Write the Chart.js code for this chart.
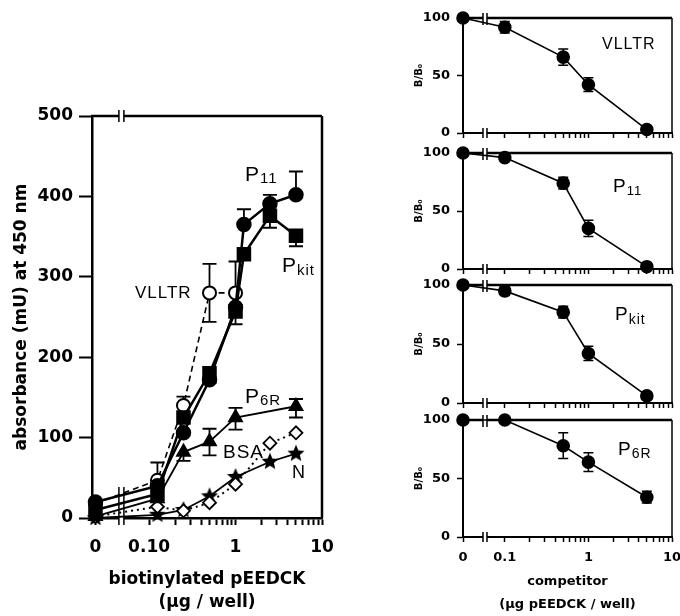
<!DOCTYPE html>
<html>
<head>
<meta charset="utf-8">
<script src="https://cdn.jsdelivr.net/npm/chart.js@4.4.1/dist/chart.umd.min.js"></script>
<style>
  body { margin: 0; background: #fff; }
  #wrap { position: relative; width: 680px; height: 616px; }
  #wrap canvas { position: absolute; top: 0; }
</style>
</head>
<body>
<div id="wrap">
  <canvas id="main" width="340" height="616" style="left:0"></canvas>
  <canvas id="c1" width="340" height="616" style="left:340px"></canvas>
  <canvas id="c2" width="340" height="616" style="left:340px"></canvas>
  <canvas id="c3" width="340" height="616" style="left:340px"></canvas>
  <canvas id="c4" width="340" height="616" style="left:340px"></canvas>
</div>
<script>
// ---- left panel: absorbance (mU) vs biotinylated pEEDCK (ug / well)
const doseP = [0, 0.125, 0.25, 0.5, 1, 1.25, 2.5, 5];   // P11 and Pkit
const p11 = [20, 40, 106, 172, 262, 365, 391, 402];
const p11Up = [0, 0, 0, 0, 0, 19, 11, 29];
const pkit = [10, 30, 125, 180, 257, 328, 376, 351];
const pkitDown = [0, 0, 0, 12, 16, 0, 15, 13];

const doseV = [0, 0.125, 0.25, 0.5, 1];
const vlltr = [18, 47, 140, 280, 280];
const vlltrUp = [0, 22, 11, 36, 39];
const vlltrDown = [0, 0, 0, 36, 0];

const doseR = [0, 0.125, 0.25, 0.5, 1, 5];
const p6r = [2, 24, 82, 95, 125, 139];
const p6rUp = [0, 0, 0, 16, 12, 9];
const p6rDown = [0, 0, 11, 17, 15, 14];

const doseB = [0, 0.125, 0.25, 0.5, 1, 2.5, 5];         // BSA and N
const bsa = [2, 14, 9, 19, 42, 93, 106];
const nPep = [0, 4, 10, 27, 51, 70, 80];

const yTicksMain = [0, 100, 200, 300, 400, 500];
const xLabelsMain = ['0', '0.10', '1', '10'];

// ---- right panels: B/Bo vs competitor (ug pEEDCK / well)
const doseC = [0, 0.1, 0.5, 1, 5];
const compVlltr = [100, 92, 66, 42, 3];
const compVlltrErr = [0, 5, 7, 6, 2];
const compP11 = [100, 96, 74, 35, 2];
const compP11Err = [0, 3, 5, 7, 0];
const compPkit = [100, 95, 77, 42, 6];
const compPkitErr = [0, 4, 5, 6, 3];
const compP6r = [100, 100, 78, 64, 34];
const compP6rErr = [0, 0, 11, 8, 5];

const yTicksComp = [0, 50, 100];
const xLabelsComp = ['0', '0.1', '1', '10'];

// x axis is in log10 units, the "0" dose sits left of the axis break
const ZERO_MAIN = -1.62;
const ZERO_COMP = -1.5;

function pts(doses, vals, zero) {
  return doses.map(function (d, i) {
    return { x: d === 0 ? zero : Math.log10(d), y: vals[i] };
  });
}

function logTicks(zero) {
  var t = [zero, -1, 0, 1];
  for (var k = 2; k <= 9; k++) {
    t.push(Math.log10(k / 10));
    t.push(Math.log10(k));
  }
  t.sort(function (a, b) { return a - b; });
  return t.map(function (v) { return { value: v }; });
}

function logLabel(zero, labels) {
  var majors = [zero, -1, 0, 1];
  return function (v) {
    for (var i = 0; i < majors.length; i++) {
      if (Math.abs(v - majors[i]) < 1e-6) return labels[i];
    }
    return '';
  };
}

function starImg(r) {
  var c = document.createElement('canvas');
  c.width = c.height = r * 2 + 2;
  var g = c.getContext('2d');
  g.beginPath();
  for (var i = 0; i < 10; i++) {
    var a = -Math.PI / 2 + i * Math.PI / 5;
    var rr = i % 2 ? r * 0.45 : r;
    g.lineTo(c.width / 2 + rr * Math.cos(a), c.height / 2 + rr * Math.sin(a));
  }
  g.closePath();
  g.fillStyle = '#000';
  g.fill();
  return c;
}

// error bars, drawn under the markers
function errorBars(cap, width) {
  return {
    id: 'errorBars',
    beforeDatasetsDraw: function (chart) {
      var ctx = chart.ctx, xs = chart.scales.x, ys = chart.scales.y;
      ctx.save();
      ctx.strokeStyle = '#000';
      ctx.lineWidth = width;
      chart.data.datasets.forEach(function (ds) {
        ds.data.forEach(function (p, i) {
          var up = ds.errUp ? ds.errUp[i] : 0;
          var dn = ds.errDown ? ds.errDown[i] : 0;
          var x = xs.getPixelForValue(p.x);
          var y0 = ys.getPixelForValue(p.y);
          [up, -dn].forEach(function (e) {
            if (!e) return;
            var y1 = ys.getPixelForValue(p.y + e);
            ctx.beginPath();
            ctx.moveTo(x, y0);
            ctx.lineTo(x, y1);
            ctx.moveTo(x - cap, y1);
            ctx.lineTo(x + cap, y1);
            ctx.stroke();
          });
        });
      });
      ctx.restore();
    }
  };
}

// top/right frame and the axis break marks
function frame(o) {
  return {
    id: 'frame',
    beforeDatasetsDraw: function (chart) {
      var ctx = chart.ctx, a = chart.chartArea;
      var xb = chart.scales.x.getPixelForValue(o.breakAt);
      ctx.save();
      ctx.strokeStyle = '#000';
      ctx.lineWidth = o.topWidth;
      ctx.beginPath();
      ctx.moveTo(a.left - 1, a.top);
      ctx.lineTo(a.right, a.top);
      ctx.stroke();
      ctx.lineWidth = o.rightWidth;
      ctx.beginPath();
      ctx.moveTo(a.right, a.top);
      ctx.lineTo(a.right, a.bottom);
      ctx.stroke();
      ctx.fillStyle = '#fff';
      ctx.fillRect(xb - o.gap, a.top - 2, o.gap * 2, 4);
      ctx.fillRect(xb - o.gap, a.bottom - 2, o.gap * 2, 4);
      ctx.lineWidth = 1.5;
      [-o.gap, o.gap].forEach(function (d) {
        ctx.beginPath();
        ctx.moveTo(xb + d, a.top - o.topMark[0]);
        ctx.lineTo(xb + d, a.top + o.topMark[1]);
        ctx.moveTo(xb + d, a.bottom - o.botMark[0]);
        ctx.lineTo(xb + d, a.bottom + o.botMark[1]);
        ctx.stroke();
      });
      ctx.restore();
    }
  };
}

// series names written next to the curves
function notes(items) {
  return {
    id: 'notes',
    afterDraw: function (chart) {
      var ctx = chart.ctx;
      ctx.save();
      ctx.fillStyle = '#000';
      ctx.textBaseline = 'alphabetic';
      ctx.textAlign = 'left';
      if ('letterSpacing' in ctx) ctx.letterSpacing = '1px';
      items.forEach(function (n) {
        ctx.font = n.size + 'px "Liberation Sans", Arial, sans-serif';
        ctx.fillText(n.text, n.x, n.y);
        if (n.sub) {
          var w = ctx.measureText(n.text).width;
          ctx.font = n.subSize + 'px "Liberation Sans", Arial, sans-serif';
          ctx.fillText(n.sub, n.x + w, n.y + n.drop);
        }
      });
      ctx.restore();
    }
  };
}

Chart.defaults.font.family = '"DejaVu Sans", sans-serif';
Chart.defaults.color = '#000';

var BLK = '#000';
var tickFont = { family: '"DejaVu Sans"', weight: 'bold', size: 17 };

// ---------------- left chart
new Chart(document.getElementById('main'), {
  type: 'line',
  data: {
    datasets: [
      { label: 'P11', data: pts(doseP, p11, ZERO_MAIN), errUp: p11Up,
        borderColor: BLK, borderWidth: 2.5, pointStyle: 'circle', pointRadius: 6.5,
        pointBackgroundColor: BLK, pointBorderColor: BLK },
      { label: 'Pkit', data: pts(doseP, pkit, ZERO_MAIN), errDown: pkitDown,
        borderColor: BLK, borderWidth: 2.5, pointStyle: 'rect', pointRadius: 8.5,
        pointBackgroundColor: BLK, pointBorderColor: BLK },
      { label: 'VLLTR', data: pts(doseV, vlltr, ZERO_MAIN), errUp: vlltrUp, errDown: vlltrDown,
        borderColor: BLK, borderWidth: 1.6, borderDash: [6, 4], pointStyle: 'circle', pointRadius: 6.5,
        pointBackgroundColor: '#fff', pointBorderColor: BLK, pointBorderWidth: 2 },
      { label: 'P6R', data: pts(doseR, p6r, ZERO_MAIN), errUp: p6rUp, errDown: p6rDown,
        borderColor: BLK, borderWidth: 1.8, pointStyle: 'triangle', pointRadius: 7.5,
        pointBackgroundColor: BLK, pointBorderColor: BLK },
      { label: 'BSA', data: pts(doseB, bsa, ZERO_MAIN),
        borderColor: BLK, borderWidth: 2, borderDash: [2, 4], pointStyle: 'rectRot', pointRadius: 6.5,
        pointBackgroundColor: '#fff', pointBorderColor: BLK, pointBorderWidth: 1.8 },
      { label: 'N', data: pts(doseB, nPep, ZERO_MAIN),
        borderColor: BLK, borderWidth: 1.8, pointStyle: starImg(9), pointRadius: 9 }
    ]
  },
  options: {
    responsive: false,
    animation: false,
    devicePixelRatio: 1,
    events: [],
    clip: false,
    layout: { padding: { left: 0, top: 116, right: 18, bottom: 0 } },
    elements: { line: { tension: 0 } },
    plugins: { legend: { display: false }, tooltip: { enabled: false } },
    scales: {
      x: {
        type: 'linear', min: -1.66, max: 1,
        afterBuildTicks: function (s) { s.ticks = logTicks(ZERO_MAIN); },
        afterFit: function (s) { s.height = 98; s.paddingLeft = 0; s.paddingRight = 0; },
        ticks: { autoSkip: false, maxRotation: 0, padding: 12, font: tickFont, color: BLK,
                 callback: logLabel(ZERO_MAIN, xLabelsMain) },
        grid: { drawOnChartArea: false, tickLength: 7, tickWidth: 2, tickColor: BLK },
        border: { display: true, width: 2.5, color: BLK },
        title: { display: true, text: ['biotinylated pEEDCK', '(\u00b5g / well)'],
                 font: { family: '"DejaVu Sans"', weight: 'bold', size: 17, lineHeight: 1.35 },
                 color: BLK, padding: { top: 0, bottom: 2 } }
      },
      y: {
        min: 0, max: 500,
        afterBuildTicks: function (s) { s.ticks = yTicksMain.map(function (v) { return { value: v }; }); },
        afterFit: function (s) { s.width = 92; s.paddingTop = 0; s.paddingBottom = 0; },
        ticks: { padding: 6, font: tickFont, color: BLK },
        grid: { drawOnChartArea: false, tickLength: 13, tickWidth: 2, tickColor: BLK },
        border: { display: true, width: 2.5, color: BLK },
        title: { display: true, text: 'absorbance (mU) at 450 nm',
                 font: { family: '"DejaVu Sans"', weight: 'bold', size: 17 },
                 color: BLK, padding: { top: 11, bottom: 0 } }
      }
    }
  },
  plugins: [
    frame({ breakAt: -1.32, gap: 2.5, topWidth: 2.5, rightWidth: 2.5, topMark: [6, 6], botMark: [31, 7] }),
    errorBars(7, 1.8),
    notes([
      { text: 'P', sub: '11', x: 245, y: 181, size: 21, subSize: 15, drop: 2 },
      { text: 'P', sub: 'kit', x: 282, y: 272, size: 21, subSize: 15, drop: 3 },
      { text: 'VLLTR', x: 135, y: 298, size: 17 },
      { text: 'P', sub: '6R', x: 245, y: 403, size: 21, subSize: 15, drop: 2 },
      { text: 'BSA', x: 223, y: 458, size: 19 },
      { text: 'N', x: 292, y: 478, size: 18 }
    ])
  ]
});

// ---------------- right panels
var panelBoxes = [[18, 133], [153, 269], [285, 403], [420, 537]];
var compSets = [
  { vals: compVlltr, err: compVlltrErr, note: { text: 'VLLTR', x: 262, y: 49, size: 16 } },
  { vals: compP11, err: compP11Err, note: { text: 'P', sub: '11', x: 273, y: 192, size: 19, subSize: 13, drop: 3 } },
  { vals: compPkit, err: compPkitErr, note: { text: 'P', sub: 'kit', x: 275, y: 320, size: 19, subSize: 14, drop: 4 } },
  { vals: compP6r, err: compP6rErr, note: { text: 'P', sub: '6R', x: 278, y: 455, size: 19, subSize: 14, drop: 3 } }
];
var smallFont = { family: '"DejaVu Sans"', weight: 'bold', size: 13 };

compSets.forEach(function (c, i) {
  var top = panelBoxes[i][0], bottom = panelBoxes[i][1];
  var last = i === compSets.length - 1;
  var xh = last ? 616 - bottom : 20;
  new Chart(document.getElementById('c' + (i + 1)), {
    type: 'line',
    data: {
      datasets: [{
        data: pts(doseC, c.vals, ZERO_COMP), errUp: c.err, errDown: c.err,
        borderColor: BLK, borderWidth: 1.6, pointStyle: 'circle', pointRadius: 6,
        pointBackgroundColor: BLK, pointBorderColor: BLK
      }]
    },
    options: {
      responsive: false,
      animation: false,
      devicePixelRatio: 1,
      events: [],
      clip: false,
      layout: { padding: { left: 0, top: top, right: 8, bottom: 616 - bottom - xh } },
      elements: { line: { tension: 0 } },
      plugins: { legend: { display: false }, tooltip: { enabled: false } },
      scales: {
        x: {
          type: 'linear', min: -1.5, max: 1,
          afterBuildTicks: function (s) { s.ticks = logTicks(ZERO_COMP); },
          afterFit: function (s) { s.height = xh; s.paddingLeft = 0; s.paddingRight = 0; },
          ticks: { autoSkip: false, maxRotation: 0, padding: 8, font: smallFont, color: BLK,
                   callback: last ? logLabel(ZERO_COMP, xLabelsComp) : function () { return ''; } },
          grid: { drawOnChartArea: false, tickLength: 5, tickWidth: 1.5, tickColor: BLK },
          border: { display: true, width: 2, color: BLK },
          title: { display: last, text: ['competitor', '(\u00b5g pEEDCK / well)'],
                   font: { family: '"DejaVu Sans"', weight: 'bold', size: 13, lineHeight: 1.75 },
                   color: BLK, padding: { top: 0, bottom: 0 } }
        },
        y: {
          min: 0, max: 100,
          afterBuildTicks: function (s) { s.ticks = yTicksComp.map(function (v) { return { value: v }; }); },
          afterFit: function (s) { s.width = 123; s.paddingTop = 0; s.paddingBottom = 0; },
          ticks: { padding: 7, font: smallFont, color: BLK },
          grid: { drawOnChartArea: false, tickLength: 6, tickWidth: 1.5, tickColor: BLK },
          border: { display: true, width: 2, color: BLK },
          title: { display: true, text: 'B/B\u2080',
                   font: { family: '"DejaVu Sans"', weight: 'bold', size: 10 },
                   color: BLK, padding: { top: 73, bottom: 0 } }
        }
      }
    },
    plugins: [
      frame({ breakAt: -1.237, gap: 2, topWidth: 2.5, rightWidth: 1.5, topMark: [5, 7], botMark: [5, 5] }),
      errorBars(5, 1.5),
      notes([c.note])
    ]
  });
});
</script>
</body>
</html>
